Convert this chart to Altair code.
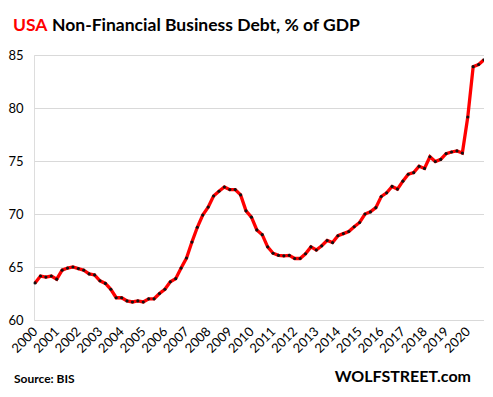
import altair as alt
import pandas as pd

# Quarterly, 2000 Q1 .. 2020 Q4
year_labels = [str(y) for y in range(2000, 2021)]
debt_pct_gdp = [
    63.5, 64.15, 64.05, 64.15, 63.85, 64.7, 64.9, 65.0, 64.85, 64.7,
    64.35, 64.25, 63.7, 63.45, 62.9, 62.1, 62.1, 61.8, 61.7, 61.8,
    61.7, 62.0, 62.0, 62.5, 62.9, 63.6, 63.9, 64.9, 65.85, 67.35,
    68.75, 69.9, 70.65, 71.7, 72.15, 72.55, 72.3, 72.3, 71.8, 70.3,
    69.7, 68.5, 68.05, 66.9, 66.3, 66.1, 66.05, 66.1, 65.8, 65.8,
    66.25, 66.9, 66.6, 67.0, 67.5, 67.3, 67.95, 68.15, 68.35, 68.8,
    69.2, 70.0, 70.2, 70.6, 71.65, 72.0, 72.6, 72.35, 73.1, 73.75,
    73.9, 74.5, 74.3, 75.4, 74.95, 75.15, 75.7, 75.85, 75.95, 75.75,
    79.15, 83.9, 84.1, 84.55,
]
y_ticks = [60, 65, 70, 75, 80, 85]

df = pd.DataFrame({"q": list(range(len(debt_pct_gdp))), "v": debt_pct_gdp})

FONT = "Lato"
label_expr = "[" + ",".join(f"'{s}'" for s in year_labels) + "][datum.value / 4]"

x = alt.X(
    "q:Q",
    scale=alt.Scale(domain=[-0.2, 83], nice=False, zero=False),
    axis=alt.Axis(
        values=[i * 4 for i in range(len(year_labels))],
        labelExpr=label_expr,
        labelAngle=-45,
        labelAlign="right",
        labelBaseline="middle",
        labelPadding=9,
        labelOverlap=False,
        labelFont=FONT,
        labelFontSize=13,
        labelColor="#000000",
        grid=False,
        ticks=False,
        domain=False,
        title=None,
    ),
)
y = alt.Y(
    "v:Q",
    scale=alt.Scale(domain=[60, 85], nice=False, zero=False),
    axis=alt.Axis(
        values=y_ticks,
        labelFont=FONT,
        labelFontSize=13,
        labelColor="#000000",
        labelAlign="left",
        labelPadding=26,
        grid=True,
        gridColor="#d9d9d9",
        gridWidth=1,
        ticks=False,
        domain=False,
        title=None,
    ),
)

base = alt.Chart(df)
line = base.mark_line(color="#ff0000", strokeWidth=3.3).encode(x=x, y=y)
pts = base.mark_circle(color="#111111", size=10, opacity=1).encode(x=x, y=y)

usa = alt.Chart(pd.DataFrame({"t": ["USA"]})).mark_text(
    font=FONT, fontSize=17.5, fontWeight="bold", color="#ff0000", align="left", baseline="alphabetic"
).encode(text="t:N", x=alt.value(-21), y=alt.value(-24))
title = alt.Chart(pd.DataFrame({"t": ["Non-Financial Business Debt, % of GDP"]})).mark_text(
    font=FONT, fontSize=17.5, fontWeight="bold", color="#000000", align="left", baseline="alphabetic"
).encode(text="t:N", x=alt.value(18), y=alt.value(-24))
source = alt.Chart(pd.DataFrame({"t": ["Source: BIS"]})).mark_text(
    font=FONT, fontSize=12, fontWeight="bold", color="#000000", align="left", baseline="alphabetic"
).encode(text="t:N", x=alt.value(-20), y=alt.value(328))
wolf = alt.Chart(pd.DataFrame({"t": ["WOLFSTREET.com"]})).mark_text(
    font=FONT, fontSize=16, fontWeight="bold", color="#000000", align="right", baseline="alphabetic"
).encode(text="t:N", x=alt.value(437), y=alt.value(327))

chart = (
    alt.layer(line, pts, usa, title, source, wolf)
    .properties(
        width=450,
        height=265,
        autosize=alt.AutoSizeParams(type="none"),
        padding={"left": 26, "top": 47, "right": 0, "bottom": 75},
    )
    .configure_view(stroke=None)
    .configure(background="#ffffff")
)

chart.save("out.html", embed_options={"renderer": "svg", "actions": False})
